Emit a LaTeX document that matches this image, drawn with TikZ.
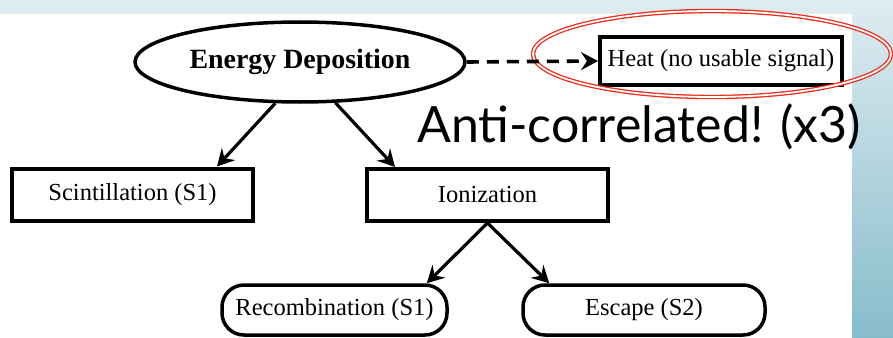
\documentclass[tikz,border=0pt]{standalone}
\usepackage{fontspec}
\setmainfont{Liberation Serif}
\newfontfamily\antifont{Lato}
\usetikzlibrary{shapes.geometric,arrows.meta,calc}
\definecolor{bglight}{RGB}{222,236,241}
\definecolor{bgdark}{RGB}{135,188,203}
\definecolor{hired}{RGB}{235,45,25}
\tikzset{
  boxnode/.style={draw,line width=4pt,minimum width=241pt,minimum height=52pt,inner sep=0pt,font=\fontsize{24.5}{28}\selectfont},
  roundnode/.style={boxnode,line width=3.5pt,rounded corners=22pt,minimum height=50pt},
  arr/.style={line width=3.2pt,-{Stealth[length=17pt,width=18pt,inset=6pt]}},
}
\begin{document}
\begin{tikzpicture}[x=1pt,y=1pt]
\useasboundingbox (0,0) rectangle (893,-337);
\shade[top color=bglight,bottom color=bgdark] (0,0) rectangle (893,-337);
\fill[bglight] (0,0) rectangle (893,-14);
\fill[white] (0,-14) rectangle (852,-337.5);

\node[ellipse,draw,line width=3.5pt,minimum width=330pt,minimum height=80pt,inner sep=0pt,font=\fontsize{27.9}{32}\selectfont\bfseries] (ed) at (300,-62) {Energy Deposition};
\node[boxnode,minimum width=242pt,minimum height=48pt] (heat) at (721,-61) {Heat (no usable signal)};
\node[ellipse,draw=hired,double=white,double distance=1.8pt,line width=1.3pt,minimum width=358pt,minimum height=86pt,inner sep=0pt] (hl) at (712,-54) {};
\node[boxnode] (sc) at (132.5,-194.5) {Scintillation (S1)};
\node[boxnode] (io) at (487.5,-195) {Ionization};
\node[roundnode,minimum width=225pt] (rc) at (334.5,-310) {Recombination (S1)};
\node[roundnode,minimum width=242pt] (es) at (644,-310) {Escape (S2)};
\node[anchor=base west,inner sep=0pt,font=\antifont\fontsize{50}{56}\selectfont] (anti) at (417,-142) {Anti-correlated! (x3)};

\draw[arr,line width=3.6pt,dash pattern=on 12pt off 8pt] (ed.east) -- (heat.west);
\draw[arr] (ed.239) -- ($(sc.north east)+(-38,0)$);
\draw[arr] (ed.311) -- ($(io.north west)+(30,0)$);
\draw[arr] (io.south) -- ($(rc.north east)+(-22,0)$);
\draw[arr] (io.south) -- ($(es.north west)+(28,0)$);
\end{tikzpicture}
\end{document}
